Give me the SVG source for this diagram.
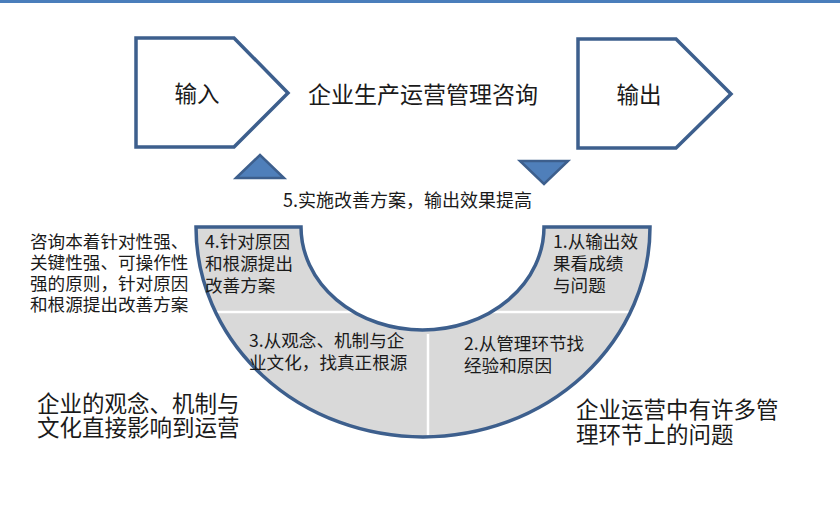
<svg xmlns="http://www.w3.org/2000/svg" width="840" height="520" viewBox="0 0 840 520">
<style>
text{font-family:"Noto Sans CJK SC","Liberation Sans",sans-serif;fill:#1a1a1a}
.big{font-size:22.5px}
.sm{font-size:17.6px}
.box{fill:#ffffff;stroke:#3d5f8d;stroke-width:3.5;stroke-linejoin:miter}
.tri{fill:#4f7fba;stroke:#3d5f8d;stroke-width:2.5;stroke-linejoin:miter}
.div{stroke:#ffffff;stroke-width:2.5;fill:none}
</style>
<rect x="0" y="0" width="840" height="3" fill="#4a7ebb"/>
<g id="input">
<polygon class="box" points="136,38 234,38 288,93 234,147 136,147"/>
<text class="big" x="197" y="102" text-anchor="middle">输入</text>
</g>
<text id="title" x="308" y="103" style="font-size:23px">企业生产运营管理咨询</text>
<g id="output">
<polygon class="box" points="578,39 676,39 731,94 676,148 578,148"/>
<text class="big" x="639" y="103" text-anchor="middle">输出</text>
</g>
<g id="connectors">
<polygon class="tri" points="236,178 260,155 284,178"/>
<polygon class="tri" points="520,161 568,161 544,184"/>
</g>
<text id="step5" x="283" y="207" style="font-size:18px">5.实施改善方案，输出效果提高</text>
<g id="ring">
<path d="M196,227 L301,227 A121.5,103 0 0 0 544,227 L650,227 A227,210 0 0 1 196,227 Z" fill="#d9d9d9"/>
<line class="div" x1="215" y1="312" x2="354" y2="312"/>
<line class="div" x1="491" y1="312" x2="631" y2="312"/>
<line class="div" x1="428" y1="334" x2="428" y2="436"/>
<path d="M196,227 L301,227 A121.5,103 0 0 0 544,227 L650,227 A227,210 0 0 1 196,227 Z" fill="none" stroke="#3d5f8d" stroke-width="3.5"/>
</g>
<g id="seg4">
<text class="sm" x="205" y="248"><tspan x="205" y="248">4.针对原因</tspan><tspan x="205" y="270">和根源提出</tspan><tspan x="205" y="292">改善方案</tspan></text>
</g>
<g id="seg1">
<text class="sm" x="553" y="248"><tspan x="553" y="248">1.从输出效</tspan><tspan x="553" y="270">果看成绩</tspan><tspan x="553" y="292">与问题</tspan></text>
</g>
<g id="seg3">
<text class="sm" x="249" y="347"><tspan x="249" y="347">3.从观念、机制与企</tspan><tspan x="249" y="369">业文化，找真正根源</tspan></text>
</g>
<g id="seg2">
<text class="sm" x="464" y="350"><tspan x="464" y="350">2.从管理环节找</tspan><tspan x="464" y="372">经验和原因</tspan></text>
</g>
<g id="note-left">
<text class="sm" x="30" y="248"><tspan x="30" y="248">咨询本着针对性强、</tspan><tspan x="30" y="269">关键性强、可操作性</tspan><tspan x="30" y="290">强的原则，针对原因</tspan><tspan x="30" y="311">和根源提出改善方案</tspan></text>
</g>
<g id="note-culture">
<text class="big" x="37" y="412"><tspan x="37" y="412">企业的观念、机制与</tspan><tspan x="37" y="436">文化直接影响到运营</tspan></text>
</g>
<g id="note-problems">
<text class="big" x="576" y="418"><tspan x="576" y="418">企业运营中有许多管</tspan><tspan x="576" y="443">理环节上的问题</tspan></text>
</g>
</svg>
